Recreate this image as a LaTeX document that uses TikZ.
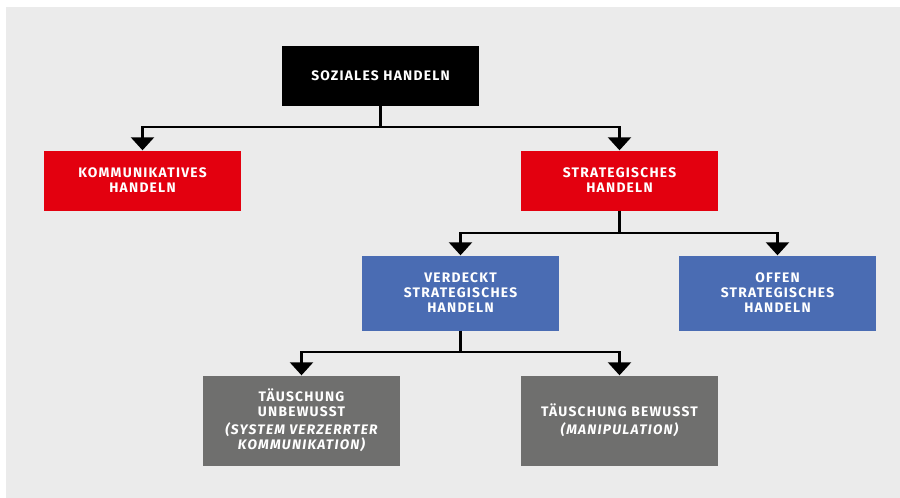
\documentclass[tikz,border=0pt]{standalone}
\usepackage{fontspec}
\setmainfont{Fira Sans}[LetterSpace=9]
\usepackage{tikz}
\usetikzlibrary{arrows.meta}
\usetikzlibrary{positioning}

\definecolor{bgGray}{RGB}{235,235,235}
\definecolor{boxRed}{RGB}{227,0,15}
\definecolor{boxBlue}{RGB}{74,108,179}
\definecolor{boxGray}{RGB}{111,111,110}

\tikzset{
  box/.style={rectangle, minimum width=197pt, inner sep=0pt, align=center,
    text=white, font=\fontsize{13.8}{15}\selectfont\bfseries},
  link/.style={line width=2.4pt, black},
  arr/.style={link, -{Triangle[width=23pt,length=13pt]}}
}

\begin{document}
\begin{tikzpicture}[x=1pt,y=-1pt]
 \useasboundingbox (0,0) rectangle (900,498);
 \fill[bgGray] (6,7) rectangle (900,498);

 % boxes
 \node[box, fill=black, minimum height=60pt] (soz) at (380.5,75.5) {SOZIALES HANDELN};
 \node[box, fill=boxRed, minimum height=60pt] (komm) at (142.5,180.5) {KOMMUNIKATIVES\\HANDELN};
 \node[box, fill=boxRed, minimum height=60pt] (strat) at (619.5,180.5) {STRATEGISCHES\\HANDELN};
 \node[box, fill=boxBlue, minimum height=75pt] (verd) at (460.5,293) {VERDECKT\\STRATEGISCHES\\HANDELN};
 \node[box, fill=boxBlue, minimum height=75pt] (offen) at (777.5,293) {OFFEN\\STRATEGISCHES\\HANDELN};
 \node[box, fill=boxGray, minimum height=90pt] (unbew) at (301.5,420.5) {TÄUSCHUNG\\UNBEWUSST\\[3pt]\itshape (SYSTEM VERZERRTER\\\itshape KOMMUNIKATION)};
 \node[box, fill=boxGray, minimum height=90pt] (bew) at (619.5,420.5) {TÄUSCHUNG BEWUSST\\[3pt]\itshape (MANIPULATION)};

 % junctions
 \coordinate (j1) at (380.5,127);
 \coordinate (j2) at (619.5,233);
 \coordinate (j3) at (460.5,352);

 \draw[link] (soz.south) -- (j1);
 \draw[arr] (j1) -| (komm.north);
 \draw[arr] (j1) -| (strat.north);

 \draw[link] (strat.south) -- (j2);
 \draw[arr] (j2) -| (verd.north);
 \draw[arr] (j2) -| (offen.north);

 \draw[link] (verd.south) -- (j3);
 \draw[arr] (j3) -| (unbew.north);
 \draw[arr] (j3) -| (bew.north);
\end{tikzpicture}
\end{document}
